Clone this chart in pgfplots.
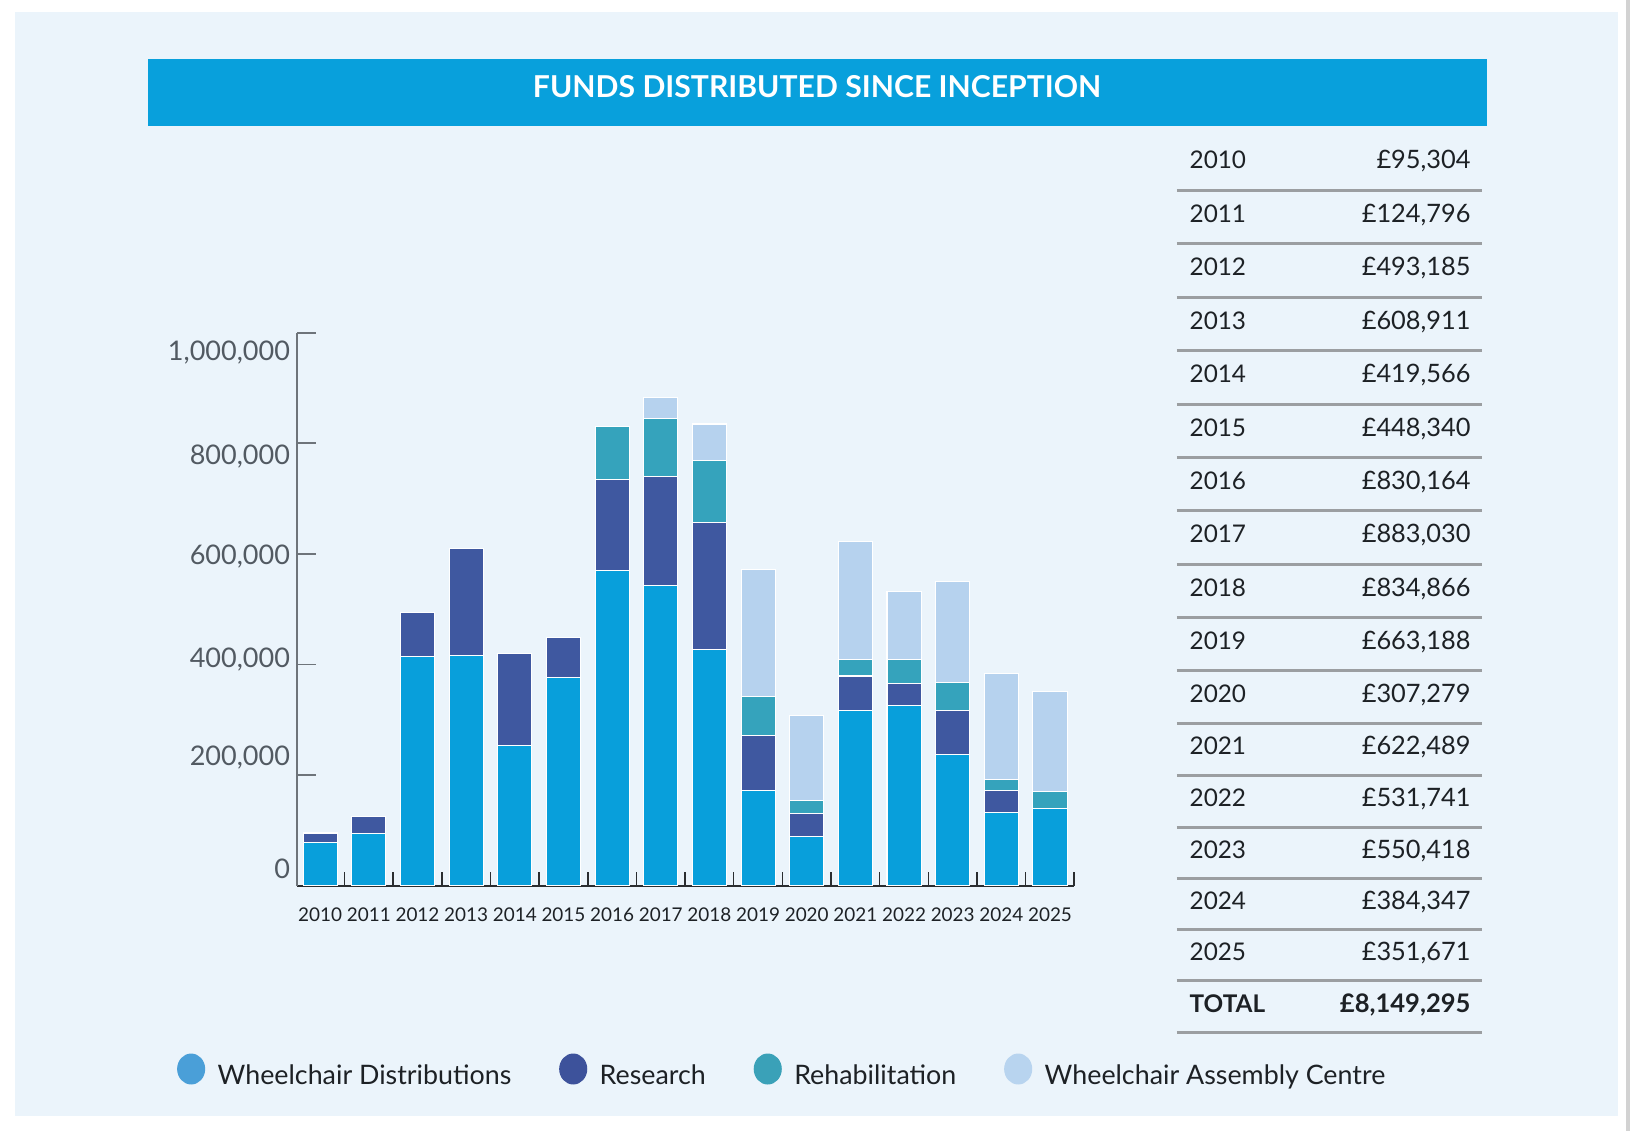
\documentclass[border=0pt]{standalone}
\usepackage{fontspec}
\setmainfont{Lato}
\usepackage{pgfplots}
\usepackage{pgfplotstable}
\pgfplotsset{compat=1.18}
\definecolor{cDist}{HTML}{089FDB}
\definecolor{cRes}{HTML}{3F58A0}
\definecolor{cReh}{HTML}{35A3BC}
\definecolor{cAsm}{HTML}{B6D2EE}
\definecolor{cLDist}{HTML}{4A9FD8}
\definecolor{cLRes}{HTML}{3D529B}
\definecolor{cLReh}{HTML}{3AA1B8}
\definecolor{cLAsm}{HTML}{B8D4EF}
\definecolor{cPanel}{HTML}{EBF4FB}
\definecolor{cBanner}{HTML}{08A0DC}
\definecolor{cRule}{HTML}{9B9EA1}
\definecolor{cText}{HTML}{1D2125}
\definecolor{cYlab}{HTML}{525A62}
\definecolor{cYaxis}{HTML}{6E747A}
\definecolor{cXaxis}{HTML}{2A2D30}

\pgfplotstableread{
x dist research rehab assembly
0 78400 16904 0 0
1 93600 31196 0 0
2 414300 78885 0 0
3 416100 192811 0 0
4 253600 165966 0 0
5 376200 72140 0 0
6 570100 164900 95164 0
7 543100 197100 104700 38130
8 426800 230100 111800 66166
9 171400 101000 70500 229600
10 88200 43100 23600 152379
11 317600 61600 29300 213989
12 325200 40000 44600 121941
13 237000 80600 49600 183218
14 132600 38800 21000 191947
15 139000 0 30600 182071
}\fundsdata

\begin{document}
\begin{tikzpicture}
\begin{scope}[x=0.5pt,y=-0.5pt]
\path[use as bounding box] (0,0) rectangle (1568,1088);
\fill[white] (0,0) rectangle (1568,1088);
\fill[cPanel] (14,12) rectangle (1556,1074);
\draw[gray!35, line width=1.5pt] (1566,0) -- (1566,1088);
\fill[cBanner] (142,57) rectangle (1430,121);
\node[text=white, font=\fontsize{14.5}{17}\selectfont\bfseries] at (786,83) {FUNDS DISTRIBUTED SINCE INCEPTION};
% table
\foreach \yy in {183,234,286,337,389,440,491,543,594,645,696,746,796,845,894,943,993}
  \draw[cRule, line width=1.6pt] (1132,\yy) -- (1426,\yy);
\foreach \yr/\amt/\yc in {2010/95{,}304/154, 2011/124{,}796/206, 2012/493{,}185/257, 2013/608{,}911/309, 2014/419{,}566/360, 2015/448{,}340/412, 2016/830{,}164/463, 2017/883{,}030/514, 2018/834{,}866/566, 2019/663{,}188/617, 2020/307{,}279/668, 2021/622{,}489/718, 2022/531{,}741/768, 2023/550{,}418/818, 2024/384{,}347/867, 2025/351{,}671/916}{
  \node[anchor=base west, inner sep=0pt, text=cText, font=\fontsize{11.7}{14}\selectfont] at (1144,\yc+8) {\yr};
  \node[anchor=base east, inner sep=0pt, text=cText, font=\fontsize{12.2}{14}\selectfont] at (1415,\yc+8) {£\amt};
}
\node[anchor=base west, inner sep=0pt, text=cText, font=\fontsize{11.7}{14}\selectfont\bfseries] at (1144,974) {TOTAL};
\node[anchor=base east, inner sep=0pt, text=cText, font=\fontsize{12.3}{14}\selectfont\bfseries] at (1415,974) {£8,149,295};
\end{scope}

\begin{axis}[
  at={(143pt,-426pt)}, anchor=south west,
  scale only axis, width=373.5pt, height=266pt,
  xmin=-0.47, xmax=15.49, ymin=0, ymax=1000000,
  enlargelimits=false,
  ybar stacked, bar width=16.4pt,
  axis x line*=bottom, axis y line*=left,
  tick align=inside,
  x axis line style={draw=cXaxis, line width=0.8pt},
  y axis line style={draw=cYaxis, line width=0.9pt},
  xtick={0,1,2,3,4,5,6,7,8,9,10,11,12,13,14,15},
  xticklabels={2010,2011,2012,2013,2014,2015,2016,2017,2018,2019,2020,2021,2022,2023,2024,2025},
  major x tick style={draw=none},
  minor xtick={0.5,1.5,2.5,3.5,4.5,5.5,6.5,7.5,8.5,9.5,10.5,11.5,12.5,13.5,14.5,15.49},
  minor x tick style={draw=cXaxis, line width=0.7pt},
  minor tick length=6.5pt,
  major tick length=9pt,
  ytick={0,200000,400000,600000,800000,1000000},
  yticklabels={{\raisebox{8pt}[\height][\depth]{0}},{\raisebox{8.3pt}[\height][\depth]{200,000}},{\raisebox{2.2pt}[\height][\depth]{400,000}},{\raisebox{-1.2pt}[\height][\depth]{600,000}},{\raisebox{-6.4pt}[\height][\depth]{800,000}},{\raisebox{-9.5pt}[\height][\depth]{1,000,000}}},
  major y tick style={draw=cYaxis, line width=0.9pt},
  scaled y ticks=false,
  xticklabel style={font=\fontsize{9.1}{11}\selectfont, text=cText, yshift=-7pt},
  yticklabel style={font=\fontsize{13}{15}\selectfont, text=cYlab},
  legend columns=4,
  legend cell align=left,
  legend style={draw=none, fill=none, inner sep=0pt,
    at={(-0.1553,-0.3383)}, anchor=west,
    font=\fontsize{12.9}{15}\selectfont, text=cText,
    /tikz/every odd column/.append style={column sep=4pt},
    /tikz/every even column/.append style={column sep=21pt}},
]
\addplot[fill=cDist, draw=white, line width=0.5pt,
  legend image code/.code={\fill[cLDist] (6.5pt,3.6pt) ellipse [x radius=6.5pt, y radius=7.2pt];}]
  table[x=x, y=dist] {\fundsdata};
\addlegendentry{Wheelchair Distributions}
\addplot[fill=cRes, draw=white, line width=0.5pt,
  legend image code/.code={\fill[cLRes] (6.5pt,3.6pt) ellipse [x radius=6.5pt, y radius=7.2pt];}]
  table[x=x, y=research] {\fundsdata};
\addlegendentry{Research}
\addplot[fill=cReh, draw=white, line width=0.5pt,
  legend image code/.code={\fill[cLReh] (6.5pt,3.6pt) ellipse [x radius=6.5pt, y radius=7.2pt];}]
  table[x=x, y=rehab] {\fundsdata};
\addlegendentry{Rehabilitation}
\addplot[fill=cAsm, draw=white, line width=0.5pt,
  legend image code/.code={\fill[cLAsm] (6.5pt,3.6pt) ellipse [x radius=6.5pt, y radius=7.2pt];}]
  table[x=x, y=assembly] {\fundsdata};
\addlegendentry{Wheelchair Assembly Centre}
\end{axis}
\end{tikzpicture}
\end{document}
